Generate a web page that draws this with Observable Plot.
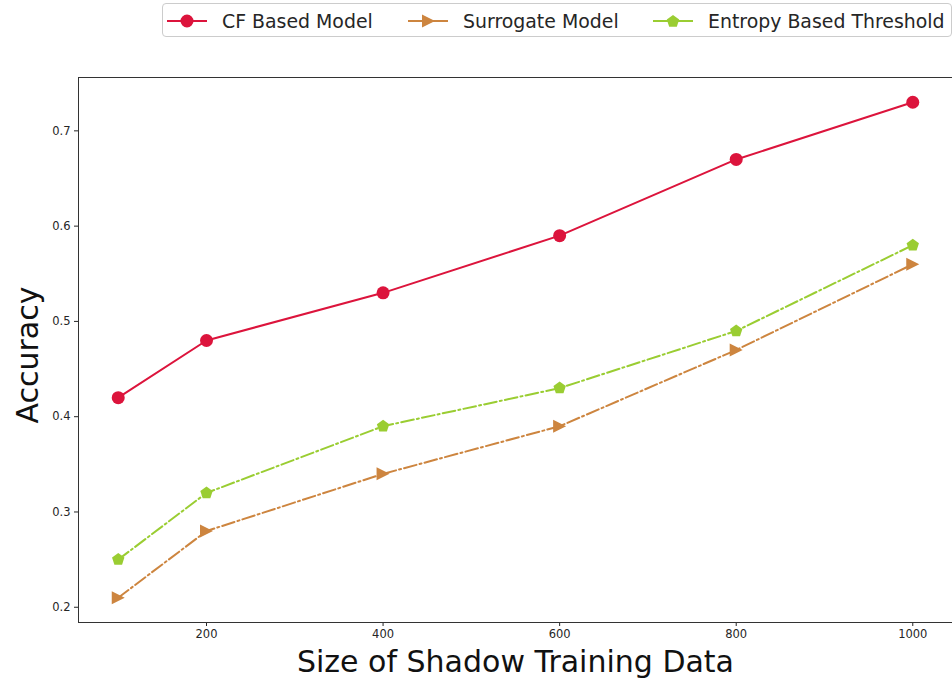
<!DOCTYPE html>
<html>
<head>
<meta charset="utf-8">
<script src="https://cdn.jsdelivr.net/npm/d3@7"></script>
<script src="https://cdn.jsdelivr.net/npm/@observablehq/plot@0.6"></script>
<style>
  html, body { margin: 0; padding: 0; background: #fff; }
  body { width: 952px; height: 678px; overflow: hidden; font-family: "DejaVu Sans", sans-serif; }
  #legend { position: relative; width: 952px; height: 40px; }
  #legendBox { position: absolute; left: 162px; top: 3px; width: 790px; height: 34px; border: 1px solid #cccccc; border-radius: 4px; box-sizing: border-box; }
  .item { position: absolute; top: 0; height: 33px; display: flex; align-items: center; font-size: 18.9px; color: #262626; white-space: nowrap; }
  .item svg { margin-right: 15px; }
  #chart svg { overflow: visible; }
</style>
</head>
<body>
<div id="legend"><div id="legendBox"></div></div>
<div id="chart"></div>
<script>
// ---- data ----
const sizes = [100, 200, 400, 600, 800, 1000];
const cfAccuracy = [0.42, 0.48, 0.53, 0.59, 0.67, 0.73];
const surrogateAccuracy = [0.21, 0.28, 0.34, 0.39, 0.47, 0.56];
const entropyAccuracy = [0.25, 0.32, 0.39, 0.43, 0.49, 0.58];
const seriesNames = ["CF Based Model", "Surrogate Model", "Entropy Based Threshold"];
const xTicks = [200, 400, 600, 800, 1000];
const yTicks = [0.2, 0.3, 0.4, 0.5, 0.6, 0.7];
const xLabel = "Size of Shadow Training Data";
const yLabel = "Accuracy";

// ---- styles ----
const colors = ["#DC143C", "#CD853F", "#9ACD32"];
const dashes = [null, "12.8,3.2,2,3.2", "12.8,3.2,2,3.2"];

const triangleRight = {
  draw(ctx, size) {
    const r = Math.sqrt(size / Math.PI);
    ctx.moveTo(r, 0);
    ctx.lineTo(-r, -r);
    ctx.lineTo(-r, r);
    ctx.closePath();
  }
};
const pentagon = {
  draw(ctx, size) {
    const r = Math.sqrt(size / Math.PI);
    for (let i = 0; i < 5; i++) {
      const a = -Math.PI / 2 + i * 2 * Math.PI / 5;
      const x = r * Math.cos(a), y = r * Math.sin(a);
      if (i === 0) ctx.moveTo(x, y); else ctx.lineTo(x, y);
    }
    ctx.closePath();
  }
};
const symbols = ["circle", triangleRight, pentagon];

const seriesValues = [cfAccuracy, surrogateAccuracy, entropyAccuracy];
const series = seriesNames.map((name, i) => ({
  name,
  color: colors[i],
  dash: dashes[i],
  symbol: symbols[i],
  data: sizes.map((s, j) => ({ size: s, acc: seriesValues[i][j] }))
}));

// ---- legend ----
const legendBox = document.getElementById("legendBox");
const itemLeft = [4, 245, 490];
const symbolPaths = [
  "M20,10 m-6.5,0 a6.5,6.5 0 1,0 13,0 a6.5,6.5 0 1,0 -13,0",
  "M27,10 L14,3.5 L14,16.5 Z",
  (() => { let p = ""; for (let i = 0; i < 5; i++) { const a = -Math.PI/2 + i*2*Math.PI/5; p += (i ? "L" : "M") + (20 + 6.5*Math.cos(a)).toFixed(2) + "," + (10.5 + 6.5*Math.sin(a)).toFixed(2); } return p + "Z"; })()
];
series.forEach((s, i) => {
  const item = document.createElement("div");
  item.className = "item";
  item.style.left = itemLeft[i] + "px";
  item.innerHTML = `<svg width="40" height="20" viewBox="0 0 40 20"><line x1="0" x2="40" y1="10" y2="10" stroke="${s.color}" stroke-width="2"/><path d="${symbolPaths[i]}" fill="${s.color}"/></svg><span>${s.name}</span>`;
  legendBox.appendChild(item);
});

// ---- chart ----
const marks = [];
series.forEach(s => {
  marks.push(Plot.line(s.data, { x: "size", y: "acc", stroke: s.color, strokeWidth: 2, strokeDasharray: s.dash || undefined }));
});
series.forEach(s => {
  marks.push(Plot.dot(s.data, { x: "size", y: "acc", fill: s.color, stroke: "none", r: 6.5, symbol: s.symbol }));
});

const chart = Plot.plot({
  width: 952,
  height: 638,
  marginTop: 37,
  marginBottom: 56,
  marginLeft: 78,
  marginRight: 0,
  style: { fontFamily: "DejaVu Sans, sans-serif", fontSize: "11.5px", color: "#262626", background: "#fff" },
  x: { domain: [55, 1045] },
  y: { domain: [0.184, 0.756] },
  marks: [
    Plot.axisX({ ticks: xTicks, tickSize: 4, tickPadding: 3, label: null, tickFormat: d => String(d) }),
    Plot.axisY({ ticks: yTicks, tickSize: 4, tickPadding: 4, label: null, tickFormat: d => d.toFixed(1) }),
    ...marks,
    Plot.frame({ stroke: "#333", strokeWidth: 1 }),
    Plot.text([xLabel], { text: d => d, frameAnchor: "bottom", textAnchor: "middle", lineAnchor: "middle", dy: 40, fontSize: 30, fill: "#111" }),
    Plot.text([yLabel], { text: d => d, frameAnchor: "left", textAnchor: "middle", lineAnchor: "middle", dx: -50, dy: 5, rotate: -90, fontSize: 30, fill: "#111" })
  ]
});
document.getElementById("chart").appendChild(chart);
</script>
</body>
</html>
